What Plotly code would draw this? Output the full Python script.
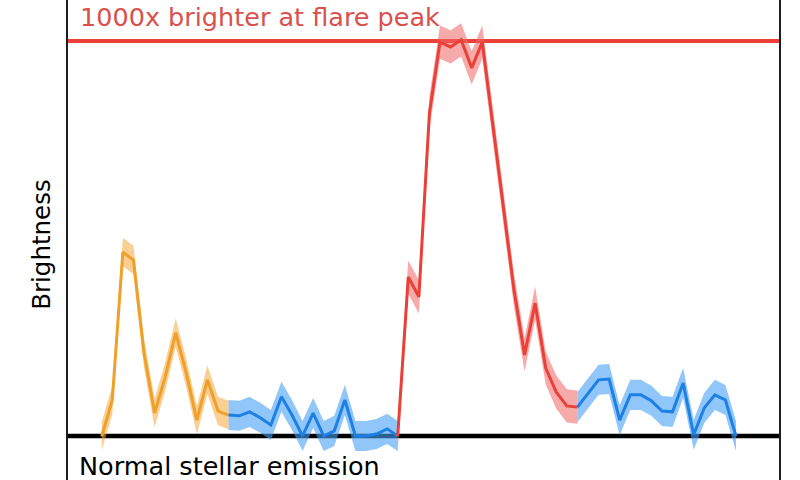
import plotly.graph_objects as go

# ---- data (relative brightness, normal emission = 1, flare peak = 1000) ----
t_pre = list(range(0, 13))
flare_small = [0, 92, 466, 446, 211, 59, 150, 262, 160, 41, 143, 64, 54]

t_quiet1 = list(range(12, 29))
quiet1 = [54, 52, 62, 47, 29, 100, 54, 1, 59, 1, 14, 92, 1, 1, 6, 19, 1]

t_flare = list(range(28, 46))
flare_big = [1, 403, 353, 818, 997, 985, 1003, 932, 997, 788, 573, 370, 206, 337, 173, 112, 77, 74]

t_quiet2 = list(range(45, 61))
quiet2 = [74, 110, 143, 145, 41, 105, 105, 90, 64, 62, 135, 4, 72, 105, 92, 1]

err_small = 36
err_quiet = 38
err_big = 42

normal_level = 1
peak_level = 1000

series = [
    (t_pre, flare_small, err_small, "rgb(240,160,40)", "rgba(244,168,58,0.55)"),
    (t_quiet1, quiet1, err_quiet, "rgb(28,128,228)", "rgba(70,160,245,0.6)"),
    (t_flare, flare_big, err_big, "rgb(234,64,56)", "rgba(240,100,100,0.55)"),
    (t_quiet2, quiet2, err_quiet, "rgb(28,128,228)", "rgba(70,160,245,0.6)"),
]

fig = go.Figure()
for t, v, e, lc, fc in series:
    upper = [a + e for a in v]
    lower = [a - e for a in v]
    fig.add_trace(go.Scatter(
        x=t + t[::-1], y=upper + lower[::-1], fill="toself", fillcolor=fc,
        line=dict(width=0), mode="lines", hoverinfo="skip", showlegend=False))
for t, v, e, lc, fc in series:
    fig.add_trace(go.Scatter(
        x=t, y=v, mode="lines", line=dict(color=lc, width=3),
        showlegend=False))

fig.add_shape(type="line", xref="paper", x0=0, x1=1, y0=normal_level, y1=normal_level,
              line=dict(color="black", width=4.5), layer="below")
fig.add_shape(type="line", xref="paper", x0=0, x1=1, y0=peak_level, y1=peak_level,
              line=dict(color="rgb(234,64,56)", width=4), layer="below")

fig.add_annotation(text="1000x brighter at flare peak", xref="paper", yref="paper",
                   x=0.0145, y=1.0, xanchor="left", yanchor="top", showarrow=False,
                   font=dict(family="DejaVu Sans", size=25.5, color="rgb(218,80,76)"))
fig.add_annotation(text="Normal stellar emission", xref="paper", yref="paper",
                   x=0.013, y=0.03, xanchor="left", yanchor="middle", showarrow=False,
                   font=dict(family="DejaVu Sans", size=25.5, color="black"))
fig.add_annotation(text="Brightness", xref="paper", yref="paper",
                   x=-0.0365, y=0.49, xanchor="center", yanchor="middle", showarrow=False,
                   textangle=-90,
                   font=dict(family="DejaVu Sans", size=24.5, color="black"))

fig.update_layout(
    width=800, height=480,
    margin=dict(l=68, r=21, t=0, b=0),
    paper_bgcolor="white", plot_bgcolor="white",
    xaxis=dict(range=[-3.19, 64.07], showgrid=False, zeroline=False,
               showticklabels=False, ticks="", showline=False),
    yaxis=dict(range=[-110.3, 1103.7], showgrid=False, zeroline=False,
               showticklabels=False, ticks="", showline=True, mirror=True,
               linecolor="rgb(30,30,30)", linewidth=1.5),
)

fig.write_html(
    "out.html",
    config={"displayModeBar": False},
    post_script="document.body.style.margin='0';document.body.style.overflow='hidden';",
)
